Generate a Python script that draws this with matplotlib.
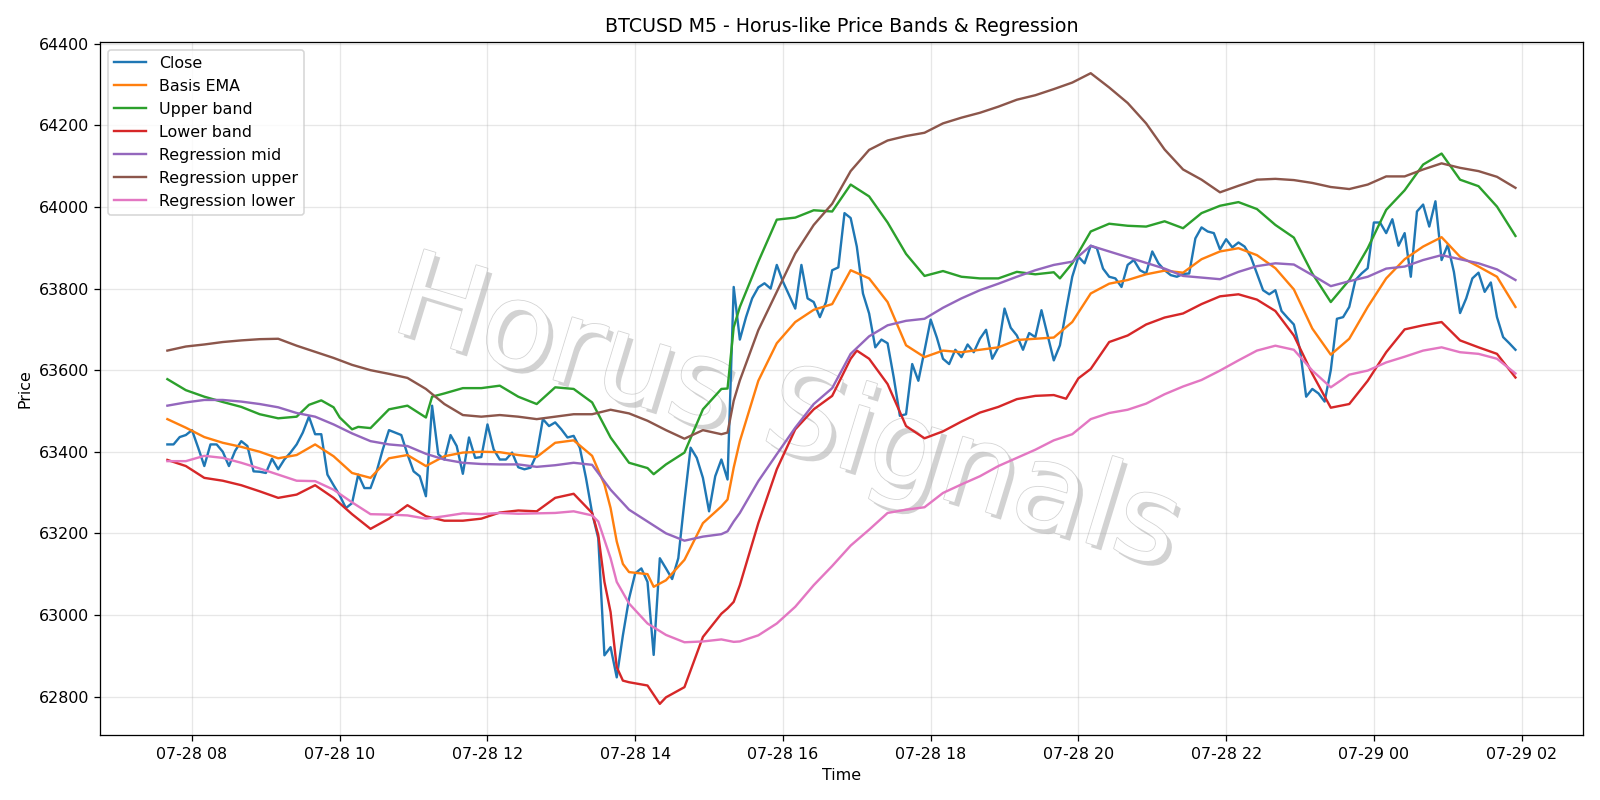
import numpy as np
import pandas as pd
import matplotlib
matplotlib.use("Agg")
import matplotlib.pyplot as plt
import matplotlib.dates as mdates
import matplotlib.patheffects as pe

# 5-minute bars starting 07-28 07:40
start = pd.Timestamp("2024-07-28 07:40")
bar = pd.Timedelta(minutes=5)

close = [
    63418, 63418, 63436, 63441, 63453, 63410, 63365, 63418, 63418, 63400,
    63365, 63402, 63426, 63414, 63352, 63351, 63348, 63383, 63357, 63381,
    63398, 63418, 63447, 63486, 63443, 63443, 63344, 63318, 63293, 63262,
    63274, 63344, 63311, 63311, 63352, 63406, 63453, 63447, 63441, 63394,
    63352, 63340, 63291, 63513, 63394, 63381, 63441, 63414, 63346, 63435,
    63385, 63387, 63467, 63406, 63381, 63381, 63398, 63362, 63357, 63361,
    63394, 63480, 63463, 63472, 63455, 63435, 63439, 63410, 63336, 63250,
    63188, 62901, 62921, 62847, 62950, 63040, 63102, 63114, 63081, 62902,
    63139, 63114, 63088, 63139, 63279, 63410, 63385, 63336, 63254, 63340,
    63381, 63332, 63804, 63675, 63730, 63776, 63803, 63813, 63800, 63858,
    63817, 63784, 63751, 63858, 63776, 63767, 63730, 63767, 63845, 63852,
    63985, 63973, 63903, 63788, 63739, 63656, 63675, 63666, 63582, 63488,
    63492, 63615, 63574, 63648, 63724, 63680, 63628, 63615, 63650, 63632,
    63663, 63644, 63677, 63699, 63628, 63656, 63751, 63704, 63685, 63650,
    63691, 63681, 63747, 63685, 63624, 63661, 63747, 63829, 63878, 63862,
    63905, 63899, 63849, 63829, 63825, 63804, 63858, 63870, 63845, 63837,
    63891, 63862, 63845, 63833, 63829, 63836, 63837, 63923, 63950, 63940,
    63936, 63896, 63921, 63901, 63913, 63903, 63878, 63837, 63796, 63786,
    63796, 63745, 63728, 63712, 63650, 63535, 63554, 63543, 63523, 63600,
    63726, 63730, 63755, 63821, 63837, 63850, 63962, 63962, 63936, 63970,
    63905, 63936, 63829, 63989, 64006, 63952, 64014, 63870, 63907, 63841,
    63740, 63776, 63825, 63839, 63792, 63815, 63730, 63681, 63666, 63650,
]

# smoother series, read as (bar number, price)
basis_ema = [
    (0, 63480), (3, 63459), (6, 63436), (9, 63422), (12, 63412), (15, 63400),
    (18, 63384), (21, 63392), (24, 63418), (27, 63389), (30, 63348), (33, 63336),
    (36, 63384), (39, 63392), (42, 63365), (45, 63389), (48, 63398), (51, 63400),
    (54, 63399), (57, 63392), (60, 63387), (63, 63422), (66, 63428), (69, 63390),
    (71, 63320), (72, 63262), (73, 63180), (74, 63125), (75, 63105), (78, 63100),
    (79, 63069), (81, 63085), (84, 63135), (87, 63225), (90, 63266), (91, 63283),
    (92, 63361), (93, 63426), (96, 63574), (99, 63666), (102, 63718), (105, 63748),
    (108, 63762), (111, 63845), (114, 63825), (117, 63767), (120, 63661), (123, 63632),
    (126, 63648), (129, 63644), (132, 63650), (135, 63656), (138, 63674), (141, 63677),
    (144, 63680), (147, 63718), (150, 63788), (153, 63812), (156, 63821), (159, 63835),
    (162, 63844), (165, 63839), (168, 63872), (171, 63891), (174, 63899), (177, 63882),
    (180, 63850), (183, 63798), (186, 63702), (189, 63638), (192, 63677), (195, 63755),
    (198, 63825), (201, 63872), (204, 63903), (207, 63926), (210, 63878), (213, 63854),
    (216, 63829), (219, 63755),
]

upper_band = [
    (0, 63578), (3, 63551), (6, 63535), (9, 63522), (12, 63510), (15, 63492),
    (18, 63482), (21, 63486), (23, 63515), (25, 63526), (27, 63509), (28, 63484),
    (30, 63455), (31, 63461), (33, 63458), (36, 63504), (39, 63513), (42, 63484),
    (43, 63535), (45, 63543), (48, 63556), (51, 63556), (54, 63562), (57, 63535),
    (60, 63517), (63, 63558), (66, 63554), (69, 63521), (72, 63435), (75, 63373),
    (78, 63360), (79, 63345), (81, 63369), (84, 63398), (87, 63504), (90, 63554),
    (91, 63555), (92, 63705), (93, 63755), (96, 63866), (99, 63969), (102, 63974),
    (105, 63992), (108, 63989), (111, 64055), (114, 64026), (117, 63962), (120, 63885),
    (123, 63831), (126, 63843), (129, 63829), (132, 63825), (135, 63825), (138, 63841),
    (141, 63835), (144, 63840), (145, 63825), (147, 63862), (150, 63940), (153, 63959),
    (156, 63954), (159, 63952), (162, 63965), (165, 63948), (168, 63985), (171, 64003),
    (174, 64012), (177, 63995), (180, 63956), (183, 63925), (186, 63837), (189, 63767),
    (192, 63821), (195, 63899), (198, 63993), (201, 64041), (204, 64104), (207, 64131),
    (210, 64067), (213, 64051), (216, 64001), (219, 63929),
]

lower_band = [
    (0, 63380), (3, 63365), (6, 63336), (9, 63329), (12, 63318), (15, 63303),
    (18, 63287), (21, 63295), (24, 63318), (27, 63287), (30, 63247), (33, 63211),
    (36, 63236), (39, 63269), (42, 63242), (45, 63231), (48, 63231), (51, 63236),
    (54, 63251), (57, 63256), (60, 63254), (63, 63287), (66, 63297), (69, 63250),
    (70, 63196), (71, 63081), (72, 63007), (73, 62872), (74, 62839), (75, 62835),
    (78, 62827), (80, 62782), (81, 62798), (84, 62823), (87, 62946), (90, 63003),
    (91, 63016), (92, 63032), (93, 63073), (96, 63225), (99, 63357), (102, 63455),
    (105, 63504), (108, 63537), (111, 63628), (112, 63648), (114, 63628), (117, 63566),
    (120, 63463), (123, 63433), (126, 63450), (129, 63474), (132, 63496), (135, 63510),
    (138, 63529), (141, 63537), (144, 63539), (146, 63530), (148, 63580), (150, 63603),
    (153, 63669), (156, 63685), (159, 63712), (162, 63729), (165, 63739), (168, 63762),
    (171, 63781), (174, 63786), (177, 63773), (180, 63745), (183, 63685), (186, 63591),
    (189, 63508), (192, 63517), (195, 63574), (198, 63644), (201, 63700), (204, 63710),
    (207, 63718), (210, 63673), (213, 63656), (216, 63640), (219, 63582),
]

reg_mid = [
    (0, 63513), (3, 63521), (6, 63527), (9, 63527), (12, 63523), (15, 63517),
    (18, 63509), (21, 63495), (24, 63486), (27, 63467), (30, 63445), (33, 63426),
    (36, 63418), (39, 63414), (42, 63395), (45, 63381), (48, 63373), (51, 63370),
    (54, 63369), (57, 63369), (60, 63363), (63, 63367), (66, 63373), (69, 63368),
    (72, 63307), (75, 63258), (78, 63229), (81, 63200), (84, 63182), (87, 63192),
    (90, 63198), (91, 63205), (92, 63229), (93, 63250), (96, 63328), (99, 63394),
    (102, 63459), (105, 63517), (108, 63556), (111, 63640), (114, 63683), (117, 63710),
    (120, 63721), (123, 63726), (126, 63753), (129, 63776), (132, 63796), (135, 63812),
    (138, 63829), (141, 63845), (144, 63858), (147, 63866), (150, 63905), (153, 63891),
    (156, 63877), (159, 63863), (162, 63849), (165, 63831), (168, 63827), (171, 63823),
    (174, 63841), (177, 63855), (180, 63862), (183, 63859), (186, 63833), (189, 63806),
    (192, 63818), (195, 63829), (198, 63849), (201, 63854), (204, 63870), (207, 63882),
    (210, 63872), (213, 63862), (216, 63847), (219, 63821),
]

reg_upper = [
    (0, 63648), (3, 63658), (6, 63663), (9, 63669), (12, 63673), (15, 63676),
    (18, 63677), (21, 63660), (24, 63645), (27, 63630), (30, 63613), (33, 63600),
    (36, 63591), (39, 63581), (42, 63554), (45, 63517), (48, 63490), (51, 63486),
    (54, 63490), (57, 63486), (60, 63480), (63, 63486), (66, 63492), (69, 63492),
    (72, 63503), (75, 63494), (78, 63476), (81, 63453), (84, 63432), (87, 63453),
    (90, 63443), (91, 63447), (92, 63525), (93, 63575), (96, 63698), (99, 63792),
    (102, 63886), (105, 63956), (108, 64008), (111, 64088), (114, 64140), (117, 64163),
    (120, 64174), (123, 64182), (126, 64205), (129, 64219), (132, 64231), (135, 64246),
    (138, 64263), (141, 64274), (144, 64289), (147, 64305), (150, 64328), (153, 64293),
    (156, 64255), (159, 64205), (162, 64141), (165, 64092), (168, 64067), (171, 64036),
    (174, 64052), (177, 64067), (180, 64069), (183, 64066), (186, 64059), (189, 64049),
    (192, 64044), (195, 64055), (198, 64075), (201, 64075), (204, 64092), (207, 64107),
    (210, 64096), (213, 64088), (216, 64074), (219, 64047),
]

reg_lower = [
    (0, 63377), (3, 63377), (6, 63390), (9, 63385), (12, 63373), (15, 63359),
    (18, 63344), (21, 63329), (24, 63328), (27, 63307), (30, 63276), (33, 63247),
    (36, 63246), (39, 63244), (42, 63236), (45, 63242), (48, 63249), (51, 63247),
    (54, 63250), (57, 63248), (60, 63249), (63, 63250), (66, 63254), (69, 63244),
    (70, 63229), (72, 63139), (73, 63081), (75, 63028), (78, 62979), (81, 62951),
    (84, 62933), (87, 62935), (90, 62940), (92, 62934), (93, 62935), (96, 62950),
    (99, 62979), (102, 63020), (105, 63073), (108, 63120), (111, 63170), (114, 63209),
    (117, 63250), (120, 63258), (123, 63264), (126, 63299), (129, 63320), (132, 63340),
    (135, 63365), (138, 63385), (141, 63405), (144, 63428), (147, 63443), (150, 63480),
    (153, 63495), (156, 63503), (159, 63518), (162, 63541), (165, 63560), (168, 63576),
    (171, 63599), (174, 63624), (177, 63648), (180, 63660), (183, 63650), (186, 63599),
    (189, 63558), (192, 63589), (195, 63599), (198, 63619), (201, 63633), (204, 63648),
    (207, 63656), (210, 63644), (213, 63640), (216, 63628), (219, 63592),
]


def to_series(pairs):
    bars, vals = zip(*pairs)
    return start + bar * np.array(bars), np.array(vals)


t_close = start + bar * np.arange(len(close))

fig, ax = plt.subplots(figsize=(14, 7), dpi=800 / 7)

ax.plot(t_close, close, label="Close")
ax.plot(*to_series(basis_ema), label="Basis EMA")
ax.plot(*to_series(upper_band), label="Upper band")
ax.plot(*to_series(lower_band), label="Lower band")
ax.plot(*to_series(reg_mid), label="Regression mid")
ax.plot(*to_series(reg_upper), label="Regression upper")
ax.plot(*to_series(reg_lower), label="Regression lower")

# watermark
ax.text(0.463, 0.46, "Horus Signals", transform=ax.transAxes, fontsize=75,
        color="white", rotation=-17, ha="center", va="center", zorder=0,
        path_effects=[pe.withSimplePatchShadow(offset=(3, -3), shadow_rgbFace="gray", alpha=0.35),
                      pe.withStroke(linewidth=1.0, foreground="lightgray")])

ax.xaxis.set_major_locator(mdates.HourLocator(interval=2))
ax.xaxis.set_major_formatter(mdates.DateFormatter("%m-%d %H"))
ax.grid(alpha=0.3)
ax.set_title("BTCUSD M5 - Horus-like Price Bands & Regression")
ax.set_xlabel("Time")
ax.set_ylabel("Price")
ax.legend(loc="upper left")

plt.tight_layout()
plt.savefig("out.png")
